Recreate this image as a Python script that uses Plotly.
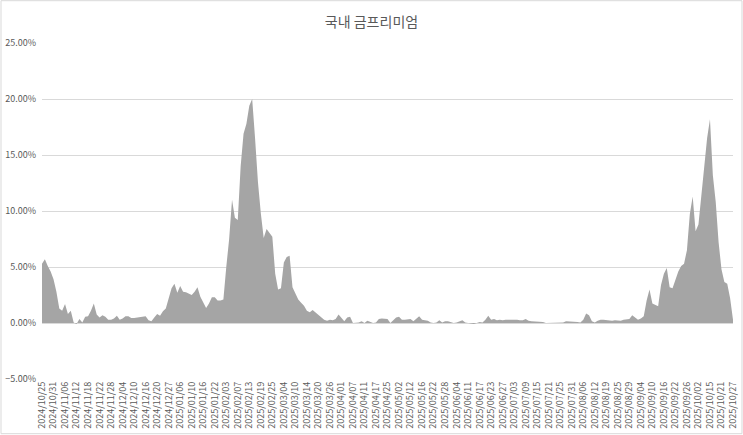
import plotly.graph_objects as go

# tick labels on the category axis (every 4th trading day)
tick_labels = [
    "2024/10/25", "2024/10/31", "2024/11/06", "2024/11/12", "2024/11/18", "2024/11/22",
    "2024/11/28", "2024/12/04", "2024/12/10", "2024/12/16", "2024/12/20", "2024/12/27",
    "2025/01/06", "2025/01/10", "2025/01/16", "2025/01/22", "2025/02/03", "2025/02/07",
    "2025/02/13", "2025/02/19", "2025/02/25", "2025/03/04", "2025/03/10", "2025/03/14",
    "2025/03/20", "2025/03/26", "2025/04/01", "2025/04/07", "2025/04/11", "2025/04/17",
    "2025/04/25", "2025/05/02", "2025/05/12", "2025/05/16", "2025/05/22", "2025/05/28",
    "2025/06/04", "2025/06/11", "2025/06/17", "2025/06/23", "2025/06/27", "2025/07/03",
    "2025/07/09", "2025/07/15", "2025/07/21", "2025/07/25", "2025/07/31", "2025/08/06",
    "2025/08/12", "2025/08/19", "2025/08/25", "2025/08/29", "2025/09/04", "2025/09/10",
    "2025/09/16", "2025/09/22", "2025/09/26", "2025/10/02", "2025/10/15", "2025/10/21",
    "2025/10/27",
]
tick_step = 4

# domestic gold premium [%], one value per trading day
premium = [
    5.3, 5.7, 5.1, 4.6, 3.9, 2.8, 1.3, 1.1, 1.7, 0.8,
    1.1, 0.05, -0.1, 0.35, 0.05, 0.55, 0.6, 1.1, 1.75, 0.75,
    0.5, 0.7, 0.55, 0.3, 0.3, 0.4, 0.65, 0.3, 0.4, 0.6,
    0.6, 0.45, 0.45, 0.5, 0.55, 0.6, 0.6, 0.25, 0.15, 0.5,
    0.8, 0.65, 1.05, 1.3, 2.2, 3.1, 3.5, 2.7, 3.3, 2.8,
    2.75, 2.6, 2.5, 2.8, 3.2, 2.35, 1.9, 1.35, 1.75, 2.3,
    2.3, 2.0, 2.0, 2.1, 5.0, 7.5, 11.0, 9.4, 9.2, 14.0,
    16.9, 17.8, 19.4, 20.0, 16.5, 12.6, 9.8, 7.6, 8.4, 8.0,
    7.7, 4.4, 3.0, 3.1, 5.4, 5.9, 6.0, 3.2, 2.6, 2.1,
    1.8, 1.55, 1.1, 0.95, 1.15, 0.95, 0.7, 0.5, 0.3, 0.2,
    0.3, 0.25, 0.35, 0.75, 0.45, 0.15, 0.5, 0.55, 0.0, 0.0,
    0.05, 0.15, 0.0, 0.2, 0.1, 0.0, 0.05, 0.35, 0.4, 0.4,
    0.35, 0.0, 0.3, 0.5, 0.55, 0.3, 0.3, 0.3, 0.35, 0.15,
    0.35, 0.6, 0.3, 0.25, 0.2, 0.05, 0.0, 0.05, 0.25, 0.05,
    0.15, 0.15, 0.1, 0.0, 0.05, 0.15, 0.25, 0.05, -0.02, -0.05,
    -0.1, 0.0, 0.1, 0.05, 0.3, 0.65, 0.3, 0.35, 0.25, 0.3,
    0.25, 0.3, 0.3, 0.35, 0.3, 0.3, 0.25, 0.25, 0.35, 0.2,
    0.15, 0.15, 0.15, 0.15, 0.1, 0.0, 0.0, 0.0, 0.0, 0.0,
    0.0, 0.05, 0.15, 0.15, 0.15, 0.1, 0.1, 0.05, 0.3, 0.85,
    0.7, 0.15, 0.05, 0.2, 0.3, 0.3, 0.25, 0.25, 0.2, 0.25,
    0.2, 0.2, 0.3, 0.3, 0.35, 0.7, 0.5, 0.3, 0.4, 0.6,
    2.0, 3.0, 1.75, 1.6, 1.5, 3.4, 4.4, 4.9, 3.2, 3.1,
    3.9, 4.6, 5.1, 5.3, 6.5, 9.7, 11.3, 8.2, 8.8, 11.4,
    13.9, 16.5, 18.2, 13.2, 10.8, 7.2, 4.8, 3.65, 3.5, 2.2,
    0.3,
]

idx = list(range(len(premium)))
tick_pos = [i * tick_step for i in range(len(tick_labels))]

y_min, y_max = -0.05, 0.25

fig = go.Figure(
    go.Scatter(x=idx,
               y=[v / 100 for v in premium],
               mode='lines',
               fill='tozeroy',
               fillcolor='#a5a5a5',
               line=dict(width=0, color='#a5a5a5'),
               hoverinfo='x+y')
)

W, H = 743, 435
ml, mr, mt, mb = 41.7, 10, 43.3, 55.7

fig.update_layout(
    width=W, height=H,
    margin=dict(l=ml, r=mr, t=mt, b=mb, autoexpand=False),
    paper_bgcolor='white',
    plot_bgcolor='white',
    showlegend=False,
    title=dict(text='국내 금프리미엄',
               x=0.5, xanchor='center',
               y=1 - 22 / H, yanchor='middle',
               automargin=False,
               font=dict(family='Noto Sans CJK KR', size=14, color='#595959')),
    font=dict(family='Noto Sans CJK KR', color='#595959'),
    xaxis=dict(range=[0, len(premium) - 1],
               tickmode='array',
               tickvals=tick_pos,
               ticktext=tick_labels,
               tickangle=-90,
               tickfont=dict(size=9, color='#595959'),
               automargin=False,
               showgrid=False,
               zeroline=False,
               showline=False,
               ticks=''),
    # category axis line crossing at 0 with a tick per trading day
    xaxis2=dict(overlaying='x',
                matches='x',
                anchor='free',
                position=(0 - y_min) / (y_max - y_min),
                tickmode='linear', tick0=0, dtick=1,
                ticks='outside', ticklen=3, tickwidth=1, tickcolor='#d9d9d9',
                showticklabels=False,
                showline=True, linecolor='#d9d9d9', linewidth=1,
                showgrid=False, zeroline=False,
                automargin=False),
    yaxis=dict(range=[y_min, y_max],
               dtick=0.05,
               tickformat='.2%',
               tickfont=dict(size=9, color='#595959'),
               ticklabelstandoff=5,
               automargin=False,
               gridcolor='#d9d9d9',
               gridwidth=1,
               zeroline=False,
               showline=False,
               ticks=''),
    shapes=[dict(type='rect', xref='paper', yref='paper',
                 x0=-ml / (W - ml - mr) + 0.001, x1=1 + (mr - 1) / (W - ml - mr),
                 y0=-(mb - 1) / (H - mt - mb), y1=1 + (mt - 1) / (H - mt - mb),
                 line=dict(color='#d9d9d9', width=1))],
)

# the page's default body margin would push the figure off the window
fig.write_html("out.html",
               config=dict(displayModeBar=False),
               post_script="document.body.style.margin='0';document.body.style.overflow='hidden';")
